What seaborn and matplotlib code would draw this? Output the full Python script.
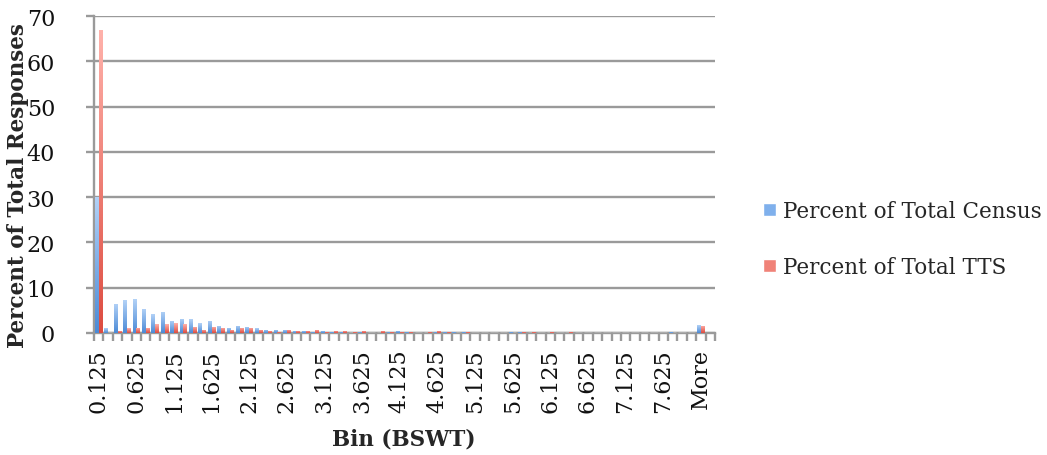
import numpy as np
import pandas as pd
import matplotlib
matplotlib.use("Agg")
import matplotlib.pyplot as plt
import seaborn as sns
from matplotlib.colors import to_rgb

# Bin upper edges (BSWT), 0.125 steps up to 8, plus the overflow bin
bins = [f"{0.125 * i:g}" for i in range(1, 65)] + ["More"]

census = [30.1, 1.0, 6.5, 7.2, 7.4, 5.4, 4.1, 4.7, 2.7, 3.2,
          3.0, 2.1, 2.7, 1.6, 1.2, 1.6, 1.4, 1.0, 0.7, 0.7,
          0.7, 0.5, 0.5, 0.3, 0.5, 0.3, 0.3, 0.0, 0.3, 0.0,
          0.0, 0.3, 0.5, 0.3, 0.0, 0.0, 0.3, 0.3, 0.3, 0.3,
          0.0, 0.0, 0.0, 0.0, 0.3, 0.3, 0.0, 0.0, 0.0, 0.0,
          0.0, 0.0, 0.0, 0.0, 0.0, 0.0, 0.0, 0.0, 0.0, 0.0,
          0.0, 0.3, 0.0, 0.0, 1.7]

tts = [66.8, 0.0, 0.5, 1.0, 1.2, 1.2, 1.9, 1.9, 2.2, 1.9,
       1.4, 0.7, 1.4, 1.2, 0.7, 1.2, 1.2, 0.7, 0.5, 0.3,
       0.7, 0.5, 0.5, 0.7, 0.3, 0.5, 0.5, 0.3, 0.5, 0.0,
       0.5, 0.3, 0.3, 0.3, 0.0, 0.3, 0.5, 0.3, 0.0, 0.3,
       0.0, 0.0, 0.0, 0.0, 0.0, 0.3, 0.3, 0.0, 0.3, 0.0,
       0.3, 0.0, 0.0, 0.0, 0.0, 0.0, 0.0, 0.0, 0.0, 0.0,
       0.0, 0.0, 0.0, 0.0, 1.6]

series_names = ["Percent of Total Census", "Percent of Total TTS"]

df = pd.DataFrame({
    "bin": bins * 2,
    "value": census + tts,
    "series": [series_names[0]] * len(bins) + [series_names[1]] * len(bins),
})

# bar gradients: (bottom, top)
gradients = {
    series_names[0]: ("#4b8ad6", "#b3d2f7"),
    series_names[1]: ("#dd4c40", "#ffb2ab"),
}
mid_colors = {
    series_names[0]: "#7fb0ec",
    series_names[1]: "#f08278",
}

sns.set_theme(style="white")
plt.rcParams["font.family"] = ["DejaVu Serif"]

fig = plt.figure(figsize=(10.47, 4.56), dpi=100)
ax = fig.add_axes([94 / 1047, 1 - 334 / 456, 621 / 1047, 317 / 456])

sns.barplot(data=df, x="bin", y="value", hue="series", order=bins,
            hue_order=series_names, palette=mid_colors, width=0.8,
            saturation=1, ax=ax, legend=True, zorder=3)

# paint each bar with a vertical gradient clipped to its rectangle
grad_steps = np.linspace(0, 1, 128)
for name, container in zip(series_names, ax.containers):
    lo, hi = (np.array(to_rgb(c)) for c in gradients[name])
    img = (lo[None, :] * (1 - grad_steps[:, None]) + hi[None, :] * grad_steps[:, None])
    img = img[:, None, :]
    for bar in container:
        h = bar.get_height()
        if not np.isfinite(h) or h <= 0:
            continue
        x0, w = bar.get_x(), bar.get_width()
        im = ax.imshow(img, extent=[x0, x0 + w, 0, h], origin="lower",
                       aspect="auto", interpolation="bilinear", zorder=3)
        im.set_clip_path(bar)
        bar.set_facecolor("none")
        bar.set_edgecolor("none")

ax.set_xlim(-0.5, len(bins) + 0.5)
ax.set_ylim(0, 70)
ax.set_yticks(range(0, 71, 10))

grid_col = "#9a9a9a"
ax.yaxis.grid(True, color=grid_col, linewidth=1.7, zorder=0)
ax.xaxis.grid(False)
ax.set_axisbelow(True)
for side in ["top", "right"]:
    ax.spines[side].set_visible(False)
for side in ["left", "bottom"]:
    ax.spines[side].set_color(grid_col)
    ax.spines[side].set_linewidth(1.7)

# labels on every fourth bin; tick marks on bin boundaries
major = list(range(0, len(bins), 4))
ax.set_xticks(major)
ax.set_xticklabels([bins[i] for i in major], rotation=90, fontsize=16,
                   color="#111111")
ax.set_xticks(np.arange(-0.5, len(bins) + 0.6, 1), minor=True)
ax.tick_params(axis="x", which="major", length=0, pad=11)
ax.tick_params(axis="x", which="minor", length=6, width=1.7, color=grid_col,
               bottom=True)
ax.tick_params(axis="y", which="major", length=6, width=1.7, color=grid_col,
               left=True, direction="out", labelsize=16, pad=22,
               labelcolor="#111111")

ax.set_xlabel("Bin (BSWT)", fontsize=15.5, fontweight="bold", va="center")
ax.set_ylabel("Percent of Total Responses", fontsize=15.5, fontweight="bold",
              va="center")
ax.xaxis.set_label_coords((404 - 94) / 621, -(440 - 334) / 317)
ax.yaxis.set_label_coords(-(94 - 18) / 621, (334 - 186) / 317)

handles, labels = ax.get_legend_handles_labels()
ax.legend(handles, labels, loc="center left", bbox_to_anchor=(744 / 1047, 1 - 240 / 456),
          bbox_transform=fig.transFigure, frameon=False, fontsize=15.5,
          handlelength=0.6, handleheight=0.6, handletextpad=0.3,
          labelspacing=1.58)

fig.savefig("out.png", dpi=100)
